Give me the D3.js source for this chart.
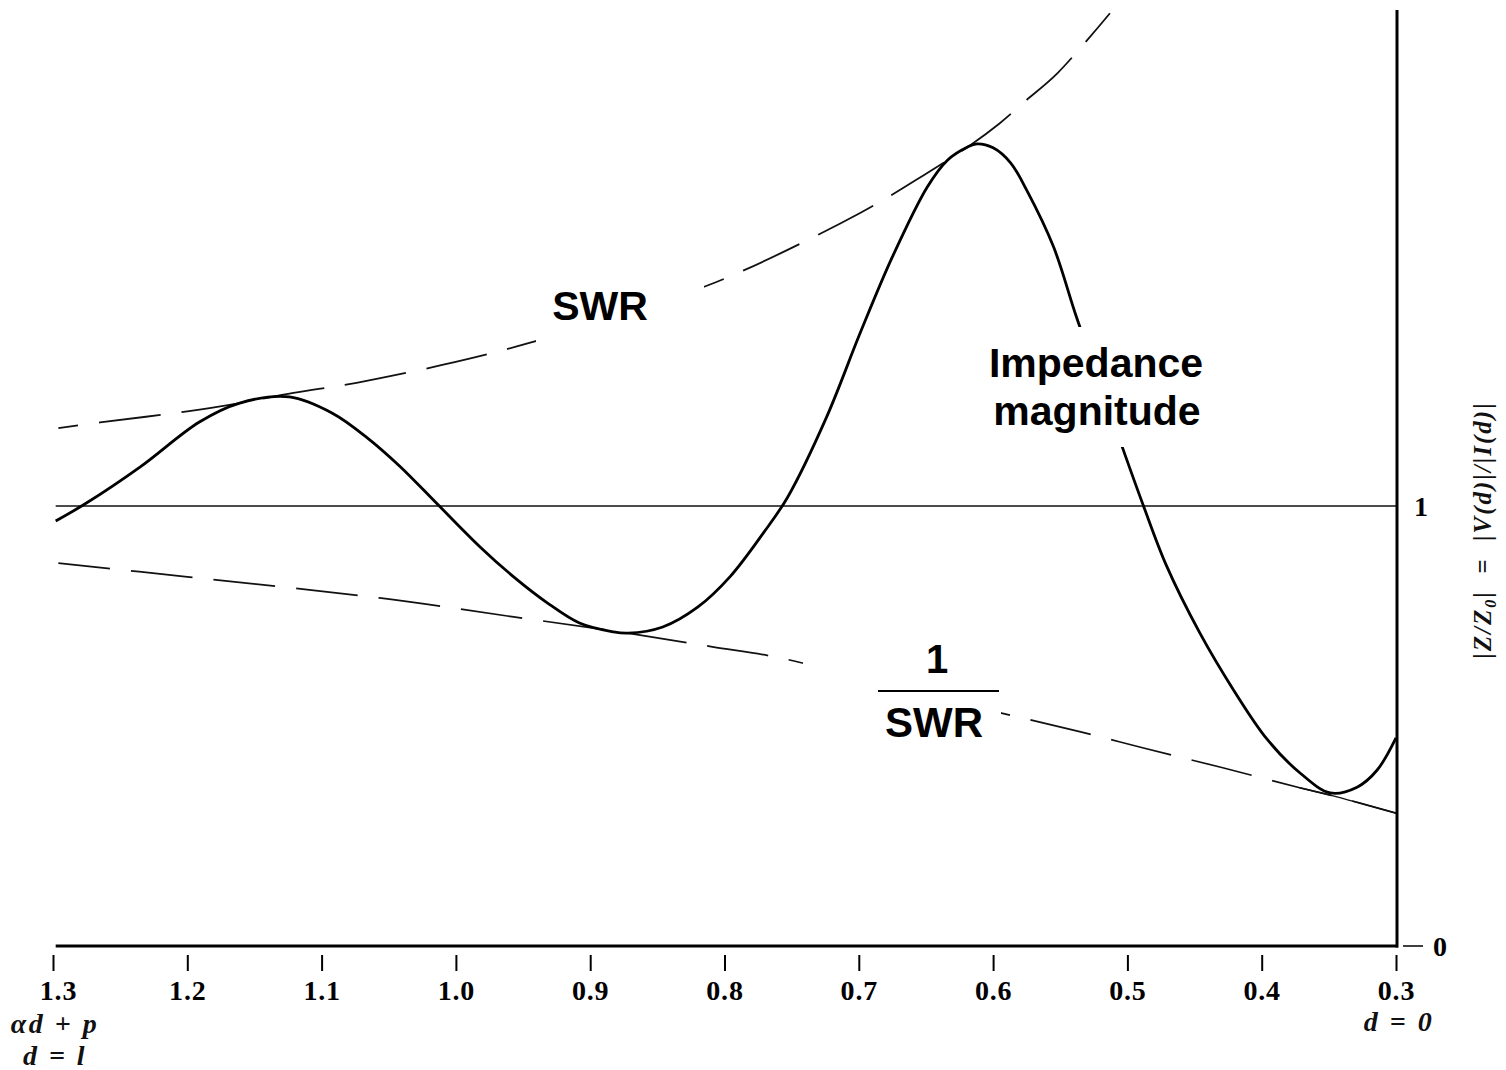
<!DOCTYPE html>
<html>
<head>
<meta charset="utf-8">
<script src="https://cdn.jsdelivr.net/npm/d3@7"></script>
<style>
  html, body { margin: 0; padding: 0; background: #fff; }
  svg { display: block; }
</style>
</head>
<body>
<svg id="chart" width="1506" height="1070"></svg>
<script>
// ---- data ----
const xTicks = [1.3, 1.2, 1.1, 1.0, 0.9, 0.8, 0.7, 0.6, 0.5, 0.4, 0.3];
const xTickLabels = ["1.3", "1.2", "1.1", "1.0", "0.9", "0.8", "0.7", "0.6", "0.5", "0.4", "0.3"];
const yTicks = [0, 1];
const yTickLabels = ["0", "1"];

// impedance magnitude |Z/Z0| vs (alpha d + p)
const impU = [1.298, 1.276, 1.235, 1.191, 1.161, 1.124, 1.092, 1.066, 1.042, 1.014, 0.982, 0.957, 0.932, 0.908, 0.883, 0.872, 0.846, 0.820, 0.796, 0.771, 0.753, 0.724, 0.699, 0.675, 0.649, 0.634, 0.619, 0.612, 0.600, 0.587, 0.575, 0.555, 0.538, 0.520, 0.503, 0.488, 0.471, 0.446, 0.421, 0.396, 0.371, 0.349, 0.329, 0.314, 0.300];
const impV = [0.966, 1.005, 1.089, 1.191, 1.234, 1.248, 1.211, 1.155, 1.091, 1.005, 0.907, 0.839, 0.780, 0.734, 0.714, 0.711, 0.725, 0.770, 0.839, 0.939, 1.020, 1.202, 1.393, 1.566, 1.725, 1.786, 1.816, 1.823, 1.814, 1.780, 1.718, 1.589, 1.430, 1.275, 1.127, 1.000, 0.865, 0.711, 0.582, 0.470, 0.392, 0.348, 0.361, 0.400, 0.473];

// SWR envelope (upper dashed)
const swrU = [1.296, 1.265, 1.200, 1.161, 1.121, 1.074, 1.011, 0.946, 0.878, 0.806, 0.699, 0.649, 0.617, 0.595, 0.575, 0.552, 0.513];
const swrV = [1.177, 1.190, 1.215, 1.234, 1.257, 1.280, 1.320, 1.370, 1.436, 1.509, 1.666, 1.757, 1.820, 1.870, 1.923, 1.984, 2.120];

// 1/SWR envelope (lower dashed)
const invU = [1.296, 1.200, 1.057, 0.957, 0.872, 0.809, 0.759, 0.647, 0.534, 0.488, 0.429, 0.371, 0.349, 0.300];
const invV = [0.870, 0.839, 0.791, 0.748, 0.711, 0.680, 0.655, 0.568, 0.486, 0.450, 0.405, 0.359, 0.343, 0.302];

const yTop = 2.127; // top of the vertical axis line

// ---- drawing ----
const svg = d3.select("#chart");
const x = d3.scaleLinear().domain([1.3, 0.3]).range([53, 1396]);
const y = d3.scaleLinear().domain([0, 1]).range([946, 506]);

const serif = "'Liberation Serif', 'Times New Roman', serif";
const sans = "'Liberation Sans', Arial, sans-serif";

const zip = (a, b) => a.map((u, i) => [u, b[i]]);
const line = d3.line().x(d => x(d[0])).y(d => y(d[1])).curve(d3.curveCatmullRom.alpha(0.5));
const dline = d3.line().x(d => x(d[0])).y(d => y(d[1])).curve(d3.curveCatmullRom.alpha(0.5));

// reference line |Z/Z0| = 1
svg.append("line")
  .attr("x1", x(1.298)).attr("x2", x(0.3) + 2)
  .attr("y1", y(1)).attr("y2", y(1))
  .attr("stroke", "#111").attr("stroke-width", 1.4);

// SWR dashed
svg.append("path")
  .datum(zip(swrU, swrV))
  .attr("d", dline)
  .attr("fill", "none").attr("stroke", "#111").attr("stroke-width", 1.8)
  .attr("stroke-dasharray", "62 21").attr("stroke-dashoffset", 42);

// 1/SWR dashed
svg.append("path")
  .datum(zip(invU, invV))
  .attr("d", dline)
  .attr("fill", "none").attr("stroke", "#111").attr("stroke-width", 1.7)
  .attr("stroke-dasharray", "62 21").attr("stroke-dashoffset", 10);

// solid tail of 1/SWR near the load
svg.append("clipPath").attr("id", "tailclip")
  .append("rect")
  .attr("x", x(0.372)).attr("y", 0)
  .attr("width", x(0.3) - x(0.372)).attr("height", 1070);
svg.append("path")
  .datum(zip(invU, invV))
  .attr("d", dline)
  .attr("clip-path", "url(#tailclip)")
  .attr("fill", "none").attr("stroke", "#111").attr("stroke-width", 1.4);

// impedance magnitude curve
svg.append("path")
  .datum(zip(impU, impV))
  .attr("d", line)
  .attr("fill", "none").attr("stroke", "#000").attr("stroke-width", 2.8)
  .attr("stroke-linejoin", "round");

// axes lines
svg.append("line")
  .attr("x1", x(1.298)).attr("x2", x(0.3) + 2)
  .attr("y1", y(0)).attr("y2", y(0))
  .attr("stroke", "#000").attr("stroke-width", 3);
svg.append("line")
  .attr("x1", x(0.3) + 1).attr("x2", x(0.3) + 1)
  .attr("y1", y(0) + 1.5).attr("y2", y(yTop))
  .attr("stroke", "#000").attr("stroke-width", 3);

// bottom ticks with labels
const xAxis = d3.axisBottom(x)
  .tickValues(xTicks)
  .tickFormat((d, i) => xTickLabels[i])
  .tickSize(16)
  .tickPadding(9);
const gx = svg.append("g").attr("transform", `translate(0,${y(0) + 9})`).call(xAxis);
gx.select(".domain").remove();
gx.selectAll(".tick line").attr("stroke", "#000").attr("stroke-width", 2);
gx.selectAll(".tick text")
  .attr("font-family", serif).attr("font-weight", "bold").attr("font-size", 28)
  .attr("letter-spacing", 0.8)
  .attr("fill", "#000").attr("dy", "0.71em");
gx.selectAll(".tick text").filter((d, i) => i === 0).attr("dx", 5);

// right-side y ticks
const gy = svg.append("g");
yTicks.forEach((v, i) => {
  if (v === 0) {
    gy.append("line")
      .attr("x1", x(0.3) + 7).attr("x2", x(0.3) + 27)
      .attr("y1", y(v)).attr("y2", y(v))
      .attr("stroke", "#000").attr("stroke-width", 1.5);
  }
  gy.append("text")
    .attr("x", v === 0 ? x(0.3) + 37 : x(0.3) + 18)
    .attr("y", y(v)).attr("dy", "0.35em")
    .attr("font-family", serif).attr("font-weight", "bold").attr("font-size", 28)
    .attr("fill", "#000")
    .text(yTickLabels[i]);
});

// y axis title (rotated)
const yt = svg.append("text")
  .attr("transform", `translate(1491,530) rotate(-90)`)
  .attr("text-anchor", "middle")
  .attr("font-family", serif).attr("font-style", "italic").attr("font-weight", "bold")
  .attr("font-size", 25).attr("letter-spacing", 2).attr("fill", "#111");
yt.append("tspan").text("|Z/Z");
yt.append("tspan").attr("font-size", 16).attr("dy", 5).text("0");
yt.append("tspan").attr("dy", -5).text("|  =  |V(d)|/|I(d)|").style("white-space", "pre");

// x axis sub labels
function mathLabel(cx, by, txt) {
  svg.append("text")
    .attr("x", cx).attr("y", by).attr("text-anchor", "middle")
    .attr("font-family", serif).attr("font-style", "italic").attr("font-weight", "bold")
    .attr("font-size", 28).attr("letter-spacing", 2.5).attr("fill", "#111")
    .style("white-space", "pre")
    .text(txt);
}
mathLabel(55, 1033, "αd + p");
mathLabel(55, 1065, "d = l");
mathLabel(1399, 1031, "d = 0");

// ---- annotation labels with white backing ----
function mask(x0, y0, w, h) {
  svg.append("rect").attr("x", x0).attr("y", y0).attr("width", w).attr("height", h).attr("fill", "#fff");
}
mask(536, 278, 168, 72);
svg.append("text")
  .attr("x", 600).attr("y", 320).attr("text-anchor", "middle")
  .attr("font-family", sans).attr("font-weight", "bold").attr("font-size", 41)
  .attr("fill", "#000").text("SWR");

mask(976, 327, 236, 120);
svg.append("text")
  .attr("x", 1096).attr("y", 377).attr("text-anchor", "middle")
  .attr("font-family", sans).attr("font-weight", "bold").attr("font-size", 41)
  .attr("fill", "#000").text("Impedance");
svg.append("text")
  .attr("x", 1097).attr("y", 425).attr("text-anchor", "middle")
  .attr("font-family", sans).attr("font-weight", "bold").attr("font-size", 41)
  .attr("fill", "#000").text("magnitude");

mask(803, 637, 198, 110);
svg.append("text")
  .attr("x", 937).attr("y", 673).attr("text-anchor", "middle")
  .attr("font-family", sans).attr("font-weight", "bold").attr("font-size", 40)
  .attr("fill", "#000").text("1");
svg.append("line")
  .attr("x1", 878).attr("x2", 999).attr("y1", 691).attr("y2", 691)
  .attr("stroke", "#000").attr("stroke-width", 2);
svg.append("text")
  .attr("x", 934).attr("y", 737).attr("text-anchor", "middle")
  .attr("font-family", sans).attr("font-weight", "bold").attr("font-size", 42)
  .attr("fill", "#000").text("SWR");
</script>
</body>
</html>
